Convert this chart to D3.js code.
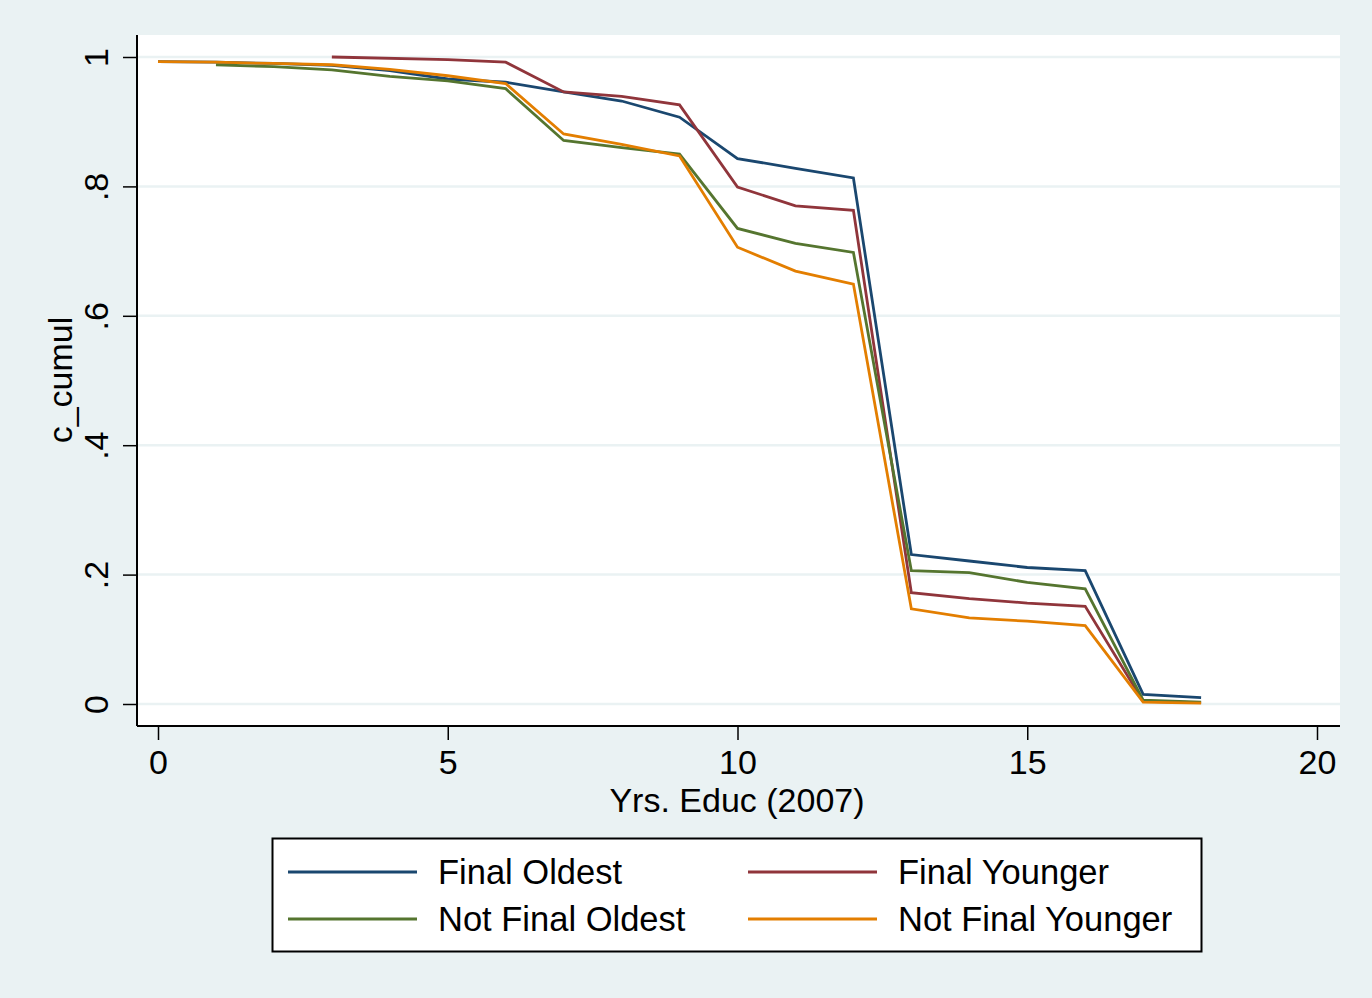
<!DOCTYPE html>
<html>
<head>
<meta charset="utf-8">
<script src="https://cdn.jsdelivr.net/npm/d3@7"></script>
<style>
  body { margin: 0; background: #eaf2f3; }
  text { font-family: "Liberation Sans", Arial, sans-serif; fill: #000; }
</style>
</head>
<body>
<div id="chart"></div>
<script>
// Data (years of education vs cumulative share)
const seriesNames = ["Final Oldest", "Final Younger", "Not Final Oldest", "Not Final Younger"];
const seriesColors = ["#1a476f", "#90353b", "#55752f", "#e37e00"];

const finalOldestX = [0, 1, 2, 3, 4, 5, 6, 7, 8, 9, 10, 11, 12, 13, 14, 15, 16, 17, 18];
const finalOldestY = [0.993, 0.992, 0.990, 0.987, 0.979, 0.966, 0.961, 0.946, 0.932, 0.907, 0.843, 0.828, 0.813, 0.231, 0.221, 0.211, 0.206, 0.015, 0.010];

const finalYoungerX = [3, 5, 6, 7, 8, 9, 10, 11, 12, 13, 14, 15, 16, 17, 18];
const finalYoungerY = [1.0, 0.996, 0.992, 0.946, 0.939, 0.926, 0.799, 0.770, 0.763, 0.172, 0.163, 0.156, 0.151, 0.004, 0.002];

const notFinalOldestX = [1, 2, 3, 4, 5, 6, 7, 8, 9, 10, 11, 12, 13, 14, 15, 16, 17, 18];
const notFinalOldestY = [0.988, 0.985, 0.980, 0.970, 0.963, 0.951, 0.871, 0.860, 0.850, 0.735, 0.712, 0.698, 0.206, 0.203, 0.188, 0.178, 0.006, 0.003];

const notFinalYoungerX = [0, 1, 2, 3, 4, 5, 6, 7, 8, 9, 10, 11, 12, 13, 14, 15, 16, 17, 18];
const notFinalYoungerY = [0.993, 0.992, 0.990, 0.988, 0.981, 0.971, 0.959, 0.881, 0.865, 0.847, 0.706, 0.669, 0.649, 0.147, 0.133, 0.128, 0.121, 0.003, 0.0015];

const xTicks = [0, 5, 10, 15, 20];
const yTicks = [0, 0.2, 0.4, 0.6, 0.8, 1];
const yTickLabels = ["0", ".2", ".4", ".6", ".8", "1"];

const series = [
  { xs: finalOldestX, ys: finalOldestY },
  { xs: finalYoungerX, ys: finalYoungerY },
  { xs: notFinalOldestX, ys: notFinalOldestY },
  { xs: notFinalYoungerX, ys: notFinalYoungerY }
];

const W = 1372, H = 998;
const plot = { left: 137, right: 1340, top: 35, bottom: 726 };

const svg = d3.select("#chart")
  .append("svg")
  .attr("width", W)
  .attr("height", H);

svg.append("rect")
  .attr("width", W).attr("height", H)
  .attr("fill", "#eaf2f3");

// plot region
svg.append("rect")
  .attr("x", plot.left).attr("y", plot.top)
  .attr("width", plot.right - plot.left).attr("height", plot.bottom - plot.top)
  .attr("fill", "#fff");

const x = d3.scaleLinear().domain([0, 20]).range([158, 1317]);
const y = d3.scaleLinear().domain([0, 1]).range([704, 57]);

// gridlines
svg.append("g")
  .selectAll("line")
  .data(yTicks)
  .enter()
  .append("line")
  .attr("x1", plot.left).attr("x2", plot.right)
  .attr("y1", d => y(d)).attr("y2", d => y(d))
  .attr("stroke", "#eaf2f3")
  .attr("stroke-width", 2.5);

// y axis
const yAxis = svg.append("g")
  .attr("transform", `translate(${plot.left},0)`)
  .call(d3.axisLeft(y).tickValues(yTicks).tickSize(14).tickPadding(0)
    .tickFormat((d, i) => yTickLabels[i]));
yAxis.select(".domain").attr("d", `M0,${plot.top}V${plot.bottom}`)
  .attr("stroke", "#000").attr("stroke-width", 2);
yAxis.selectAll(".tick line").attr("stroke", "#000").attr("stroke-width", 1.5);
yAxis.selectAll(".tick text")
  .attr("x", 0).attr("dy", null)
  .attr("transform", "translate(-29,0) rotate(-90)")
  .attr("text-anchor", "middle")
  .attr("dominant-baseline", "auto")
  .attr("y", 0)
  .style("font-size", "34px")
  .style("font-family", "Liberation Sans, Arial, sans-serif");

// x axis
const xAxis = svg.append("g")
  .attr("transform", `translate(0,${plot.bottom})`)
  .call(d3.axisBottom(x).tickValues(xTicks).tickSize(14).tickPadding(10)
    .tickFormat(d3.format("d")));
xAxis.select(".domain").attr("d", `M${plot.left},0H${plot.right}`)
  .attr("stroke", "#000").attr("stroke-width", 2);
xAxis.selectAll(".tick line").attr("stroke", "#000").attr("stroke-width", 1.5);
xAxis.selectAll(".tick text")
  .style("font-size", "34px")
  .style("font-family", "Liberation Sans, Arial, sans-serif");

// axis titles
svg.append("text")
  .attr("x", 737).attr("y", 812)
  .attr("text-anchor", "middle")
  .style("font-size", "34px")
  .text("Yrs. Educ (2007)");

svg.append("text")
  .attr("transform", "translate(72,380) rotate(-90)")
  .attr("text-anchor", "middle")
  .style("font-size", "34px")
  .text("c_cumul");

// lines
const line = d3.line()
  .x(d => x(d[0]))
  .y(d => y(d[1]));

series.forEach((s, i) => {
  svg.append("path")
    .datum(s.xs.map((v, j) => [v, s.ys[j]]))
    .attr("fill", "none")
    .attr("stroke", seriesColors[i])
    .attr("stroke-width", 2.8)
    .attr("stroke-linejoin", "miter")
    .attr("d", line);
});

// legend
const legend = svg.append("g");
legend.append("rect")
  .attr("x", 272.5).attr("y", 838.5)
  .attr("width", 929).attr("height", 113)
  .attr("fill", "#fff")
  .attr("stroke", "#000")
  .attr("stroke-width", 2);

const legendPos = [
  { lx: 288, tx: 438, y: 872 },
  { lx: 748, tx: 898, y: 872 },
  { lx: 288, tx: 438, y: 919 },
  { lx: 748, tx: 898, y: 919 }
];

seriesNames.forEach((name, i) => {
  const p = legendPos[i];
  legend.append("line")
    .attr("x1", p.lx).attr("x2", p.lx + 129)
    .attr("y1", p.y).attr("y2", p.y)
    .attr("stroke", seriesColors[i])
    .attr("stroke-width", 2.8);
  legend.append("text")
    .attr("x", p.tx).attr("y", p.y + 12)
    .style("font-size", "34.5px")
    .text(name);
});
</script>
</body>
</html>
